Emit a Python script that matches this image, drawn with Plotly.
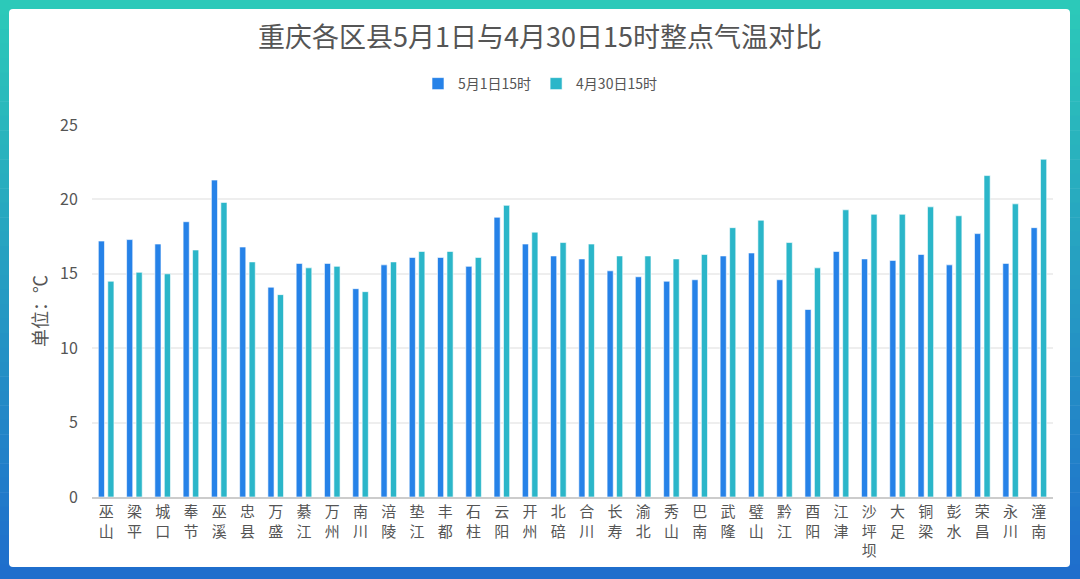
import plotly.graph_objects as go

districts = ["巫山", "梁平", "城口", "奉节", "巫溪", "忠县", "万盛", "綦江", "万州", "南川",
             "涪陵", "垫江", "丰都", "石柱", "云阳", "开州", "北碚", "合川", "长寿", "渝北",
             "秀山", "巴南", "武隆", "璧山", "黔江", "酉阳", "江津", "沙坪坝", "大足", "铜梁",
             "彭水", "荣昌", "永川", "潼南"]
may1 = [17.2, 17.3, 17.0, 18.5, 21.3, 16.8, 14.1, 15.7, 15.7, 14.0,
        15.6, 16.1, 16.1, 15.5, 18.8, 17.0, 16.2, 16.0, 15.2, 14.8,
        14.5, 14.6, 16.2, 16.4, 14.6, 12.6, 16.5, 16.0, 15.9, 16.3,
        15.6, 17.7, 15.7, 18.1]
apr30 = [14.5, 15.1, 15.0, 16.6, 19.8, 15.8, 13.6, 15.4, 15.5, 13.8,
         15.8, 16.5, 16.5, 16.1, 19.6, 17.8, 17.1, 17.0, 16.2, 16.2,
         16.0, 16.3, 18.1, 18.6, 17.1, 15.4, 19.3, 19.0, 19.0, 19.5,
         18.9, 21.6, 19.7, 22.7]
series_names = ["5月1日15时", "4月30日15时"]
title_text = "重庆各区县5月1日与4月30日15时整点气温对比"
y_title = "单位：℃"
y_ticks = [0, 5, 10, 15, 20, 25]

W, H = 1080, 579
L, R, T, B = 92, 27, 125, 82
PW, PH = W - L - R, H - T - B
FONT = "Noto Sans CJK SC, Open Sans, sans-serif"

def px_x(p):
    return (p - L) / PW

def px_y(p):
    return (H - B - p) / PH

labels = ["<br>".join(list(d)) for d in districts]

fig = go.Figure()
fig.add_trace(go.Bar(x=labels, y=may1, name=series_names[0],
                     marker=dict(color="#2682e8", line=dict(color="rgba(255,255,255,0.6)", width=1))))
fig.add_trace(go.Bar(x=labels, y=apr30, name=series_names[1],
                     marker=dict(color="#2bb6c9", line=dict(color="rgba(255,255,255,0.6)", width=1))))

# gradient frame
shapes = []
top_c = (44, 201, 185)
bot_c = (31, 110, 204)
n = 40
for i in range(n):
    f = i / (n - 1)
    c = tuple(int(round(top_c[k] + (bot_c[k] - top_c[k]) * f)) for k in range(3))
    y0 = i * H / n
    y1 = (i + 1) * H / n + 0.5
    shapes.append(dict(type="rect", xref="paper", yref="paper",
                       x0=px_x(0), x1=px_x(W), y0=px_y(y1), y1=px_y(y0),
                       fillcolor="rgb(%d,%d,%d)" % c, line=dict(width=0), layer="below"))
# inner white panel with slightly rounded corners
x0, x1, y0, y1, r = 9, 1070, 9, 567, 4
path = (f"M {px_x(x0 + r)} {px_y(y0)} L {px_x(x1 - r)} {px_y(y0)} "
        f"Q {px_x(x1)} {px_y(y0)} {px_x(x1)} {px_y(y0 + r)} "
        f"L {px_x(x1)} {px_y(y1 - r)} Q {px_x(x1)} {px_y(y1)} {px_x(x1 - r)} {px_y(y1)} "
        f"L {px_x(x0 + r)} {px_y(y1)} Q {px_x(x0)} {px_y(y1)} {px_x(x0)} {px_y(y1 - r)} "
        f"L {px_x(x0)} {px_y(y0 + r)} Q {px_x(x0)} {px_y(y0)} {px_x(x0 + r)} {px_y(y0)} Z")
shapes.append(dict(type="path", xref="paper", yref="paper", path=path,
                   fillcolor="white", line=dict(width=0), layer="below"))

fig.update_layout(
    width=W, height=H,
    margin=dict(l=L, r=R, t=T, b=B, pad=0),
    paper_bgcolor="white",
    plot_bgcolor="rgba(0,0,0,0)",
    shapes=shapes,
    font=dict(family=FONT, color="#555555", size=16),
    title=dict(text=title_text, x=0.5, xref="container", xanchor="center",
               y=1 - 38 / H, yref="container", yanchor="middle",
               font=dict(size=27, color="#555555", family=FONT)),
    legend=dict(orientation="h", x=0.5, xanchor="center", xref="container",
                y=1 - 84 / H, yref="container", yanchor="middle",
                font=dict(size=14, color="#555555"), itemwidth=30,
                traceorder="normal", bgcolor="rgba(0,0,0,0)"),
    bargap=0.33, bargroupgap=0.35,
    showlegend=True,
)
fig.update_xaxes(showgrid=False, showline=True, linecolor="#cccccc", linewidth=2,
                 ticks="", tickangle=0, tickfont=dict(size=15, color="#555555"),
                 fixedrange=True)
fig.update_yaxes(range=[0, 25], tickvals=y_ticks, showgrid=True, gridcolor="#eeeeee",
                 gridwidth=1.5, zeroline=False, showline=False,
                 ticks="outside", ticklen=10, tickcolor="rgba(0,0,0,0)",
                 tickfont=dict(size=16, color="#555555"),
                 title=dict(text=y_title, font=dict(size=18, color="#555555"), standoff=7))

fig.write_html("out.html", config={"displayModeBar": False},
               post_script="document.body.style.margin='0px';document.body.style.overflow='hidden';")
